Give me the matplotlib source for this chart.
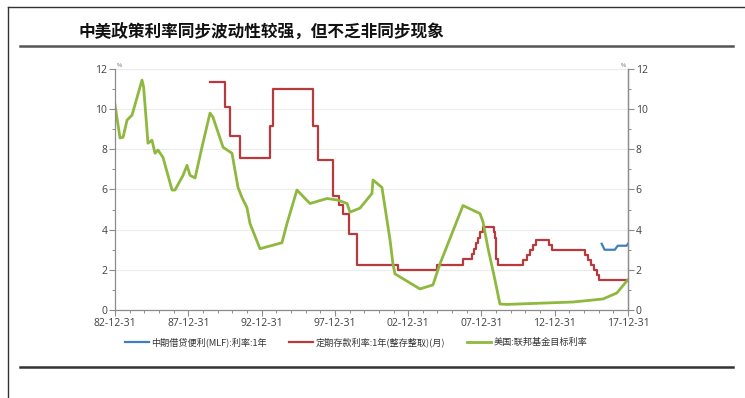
import matplotlib
matplotlib.use("Agg")
import matplotlib.pyplot as plt
from matplotlib.lines import Line2D
from matplotlib.ticker import MultipleLocator

plt.rcParams['font.family'] = ['Noto Sans CJK SC', 'DejaVu Sans']

# 美国联邦基金目标利率 (decimal year, %)
us_years = [1983.0, 1983.34, 1983.55, 1983.82, 1984.16, 1984.84, 1984.95, 1985.25,
            1985.52, 1985.73, 1985.93, 1986.27, 1986.89, 1987.09, 1987.64, 1987.91,
            1988.12, 1988.46, 1988.93, 1989.48, 1989.68, 1990.37, 1990.98, 1991.39,
            1991.66, 1992.0, 1992.21, 1992.89, 1994.39, 1994.73, 1995.41, 1996.30,
            1997.46, 1998.21, 1998.83, 1999.03, 1999.71, 2000.53, 2000.60, 2001.21,
            2001.76, 2001.96, 2002.10, 2003.80, 2004.69, 2005.17, 2006.74, 2007.90,
            2008.10, 2008.44, 2008.92, 2009.26, 2009.74, 2014.24, 2016.29, 2017.24,
            2017.92, 2018.0]
us_rate = [10.2, 8.56, 8.6, 9.45, 9.7, 11.44, 11.1, 8.3,
           8.45, 7.8, 7.96, 7.6, 5.97, 5.97, 6.7, 7.2,
           6.7, 6.57, 8.1, 9.8, 9.6, 8.1, 7.8, 6.1,
           5.6, 5.1, 4.3, 3.05, 3.35, 4.3, 5.97, 5.3,
           5.55, 5.47, 5.3, 4.87, 5.07, 5.8, 6.47, 6.1,
           3.5, 2.3, 1.8, 1.05, 1.25, 2.3, 5.2, 4.8,
           4.4, 3.1, 1.5, 0.3, 0.28, 0.4, 0.55, 0.85,
           1.45, 1.5]

# 定期存款利率:1年 (step changes)
dep_years = [1989.48, 1990.50, 1990.84, 1991.53, 1993.57, 1993.75, 1996.51, 1996.85,
             1997.90, 1998.30, 1998.55, 1998.95, 1999.50, 2002.28, 2004.95, 2006.74,
             2007.35, 2007.50, 2007.65, 2007.75, 2007.90, 2008.10, 2008.85, 2008.95,
             2009.00, 2009.10, 2010.85, 2011.10, 2011.30, 2011.55, 2011.75, 2012.62,
             2012.80, 2015.05, 2015.30, 2015.50, 2015.70, 2015.85, 2016.00, 2018.00]
dep_rate = [11.34, 10.08, 8.64, 7.56, 9.18, 10.98, 9.18, 7.47,
            5.67, 5.22, 4.77, 3.78, 2.25, 1.98, 2.25, 2.52,
            2.79, 3.06, 3.33, 3.60, 3.87, 4.14, 3.87, 3.60,
            2.52, 2.25, 2.50, 2.75, 3.00, 3.25, 3.50, 3.25,
            3.00, 2.75, 2.50, 2.25, 2.00, 1.75, 1.50, 1.50]

# 中期借贷便利(MLF):利率:1年
mlf_years = [2016.2, 2016.4, 2017.1, 2017.2, 2017.3, 2017.9, 2018.0]
mlf_rate = [3.3, 3.0, 3.0, 3.1, 3.2, 3.2, 3.3]

tick_years = [1983, 1988, 1993, 1998, 2003, 2008, 2013, 2018]
tick_labels = ['82-12-31', '87-12-31', '92-12-31', '97-12-31',
               '02-12-31', '07-12-31', '12-12-31', '17-12-31']

names = ['中期借贷便利(MLF):利率:1年', '定期存款利率:1年(整存整取)(月)', '美国:联邦基金目标利率']
colors = ['#3f7fc1', '#b83a3d', '#8fb83f']

fig = plt.figure(figsize=(7.45, 3.98), dpi=100)
ax = fig.add_axes([0.1544, 0.221, 0.6886, 0.606])

ax.plot(mlf_years, mlf_rate, color=colors[0], lw=1.6, label=names[0])
ax.plot(dep_years, dep_rate, color=colors[1], lw=1.6, drawstyle='steps-post', label=names[1])
ax.plot(us_years, us_rate, color=colors[2], lw=2.0, label=names[2])

ax.set_xlim(1983, 2018)
ax.set_ylim(0, 12)
ax.set_xticks(tick_years)
ax.set_xticklabels(tick_labels)
ax.xaxis.set_minor_locator(MultipleLocator(1))
ax.yaxis.set_major_locator(MultipleLocator(2))
ax.yaxis.set_minor_locator(MultipleLocator(1))
ax.grid(axis='y', color='#ececec', lw=0.8)
ax.set_axisbelow(True)

ax2 = ax.twinx()
ax2.set_ylim(0, 12)
ax2.yaxis.set_major_locator(MultipleLocator(2))
ax2.yaxis.set_minor_locator(MultipleLocator(1))

for a in (ax, ax2):
    a.spines['top'].set_visible(False)
    for s in ('left', 'right', 'bottom'):
        a.spines[s].set_color('#8c8c8c')
        a.spines[s].set_linewidth(0.9)
    a.tick_params(which='major', length=4, width=0.8, color='#8c8c8c',
                  labelsize=7.5, labelcolor='#404040', pad=1.5)
    a.tick_params(which='minor', length=2.5, width=0.7, color='#8c8c8c')
    for lab in a.get_xticklabels() + a.get_yticklabels():
        lab.set_family(['Open Sans', 'DejaVu Sans'])
ax2.spines['left'].set_visible(False)
ax2.spines['bottom'].set_visible(False)

# unit marks at the top of both y axes
ax.text(0.004, 1.005, '%', transform=ax.transAxes, fontsize=4, color='#555555',
        ha='left', va='bottom')
ax.text(0.996, 1.005, '%', transform=ax.transAxes, fontsize=4, color='#555555',
        ha='right', va='bottom')

handles, labels = ax.get_legend_handles_labels()
fig.legend(handles, labels, loc='center', bbox_to_anchor=(0.478, 0.141), ncol=3,
           frameon=False, fontsize=6.6, handlelength=2.6, handletextpad=0.3,
           columnspacing=2.4, labelcolor='#333333')

# page frame and rules
fig.add_artist(Line2D([0.0107, 1.0], [0.982, 0.982], color='#333333', lw=1.0,
                      transform=fig.transFigure))
fig.add_artist(Line2D([0.0107, 0.0107], [0.0, 0.982], color='#333333', lw=1.0,
                      transform=fig.transFigure))
fig.add_artist(Line2D([0.027, 0.984], [0.884, 0.884], color='#555555', lw=1.8,
                      transform=fig.transFigure))
fig.add_artist(Line2D([0.027, 0.984], [0.078, 0.078], color='#333333', lw=1.8,
                      transform=fig.transFigure))

fig.text(0.106, 0.919, '中美政策利率同步波动性较强，但不乏非同步现象', fontsize=12,
         fontweight='bold', color='#111111', ha='left', va='center')

fig.savefig('out.png', dpi=100, facecolor='white')
